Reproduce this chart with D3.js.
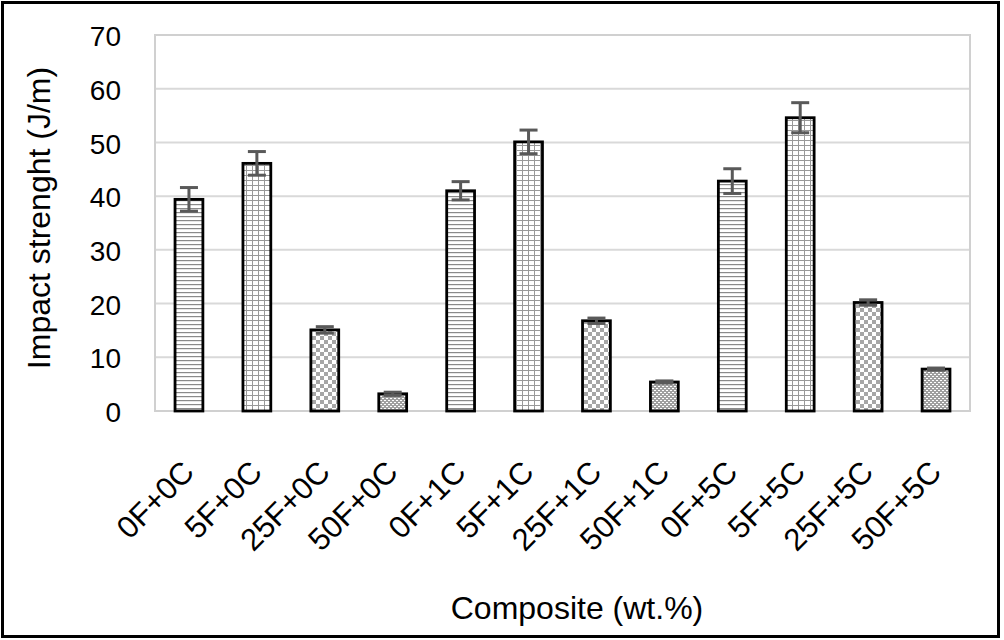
<!DOCTYPE html>
<html>
<head>
<meta charset="utf-8">
<script src="https://cdn.jsdelivr.net/npm/d3@7/dist/d3.min.js"></script>
<style>
  html, body { margin: 0; padding: 0; background: #fff; }
  svg { display: block; }
  text { font-family: "Liberation Sans", Arial, sans-serif; fill: #000; }
</style>
</head>
<body>
<svg id="chart" width="1004" height="640"></svg>
<script>
// ---- data ----
const categories = ["0F+0C","5F+0C","25F+0C","50F+0C","0F+1C","5F+1C","25F+1C","50F+1C","0F+5C","5F+5C","25F+5C","50F+5C"];
const values = [39.4, 46.1, 15.1, 3.2, 41.0, 50.1, 16.8, 5.4, 42.8, 54.6, 20.2, 7.8];
const errors = [2.2, 2.2, 0.6, 0.3, 1.7, 2.2, 0.5, 0.2, 2.3, 2.8, 0.5, 0.2];
const fillTypes = ["hline","grid","checker","dots","hline","grid","checker","dots","hline","grid","checker","dots"];
const yTicks = [0, 10, 20, 30, 40, 50, 60, 70];
const yTitle = "Impact strenght (J/m)";
const xTitle = "Composite (wt.%)";

const svg = d3.select("#chart");
const W = 1004, H = 640;
const plot = { left: 155, right: 970, top: 35, bottom: 411 };

// patterns
const defs = svg.append("defs");
const pH = defs.append("pattern").attr("id", "hline").attr("patternUnits", "userSpaceOnUse")
  .attr("width", 8).attr("height", 4);
pH.append("rect").attr("width", 8).attr("height", 4).attr("fill", "#fff");
pH.append("rect").attr("y", 0).attr("width", 8).attr("height", 1.2).attr("fill", "#8a8a8a");

const pG = defs.append("pattern").attr("id", "grid").attr("patternUnits", "userSpaceOnUse")
  .attr("width", 6).attr("height", 5);
pG.append("rect").attr("width", 6).attr("height", 5).attr("fill", "#fff");
pG.append("rect").attr("width", 6).attr("height", 1).attr("fill", "#999");
pG.append("rect").attr("width", 1).attr("height", 5).attr("fill", "#999");

const pC = defs.append("pattern").attr("id", "checker").attr("patternUnits", "userSpaceOnUse")
  .attr("width", 8).attr("height", 8);
pC.append("rect").attr("width", 8).attr("height", 8).attr("fill", "#fff");
pC.append("rect").attr("width", 4).attr("height", 4).attr("fill", "#a6a6a6");
pC.append("rect").attr("x", 4).attr("y", 4).attr("width", 4).attr("height", 4).attr("fill", "#a6a6a6");

const pD = defs.append("pattern").attr("id", "dots").attr("patternUnits", "userSpaceOnUse")
  .attr("width", 4).attr("height", 4);
pD.append("rect").attr("width", 4).attr("height", 4).attr("fill", "#a0a0a0");
pD.append("rect").attr("x", 0).attr("y", 0).attr("width", 2).attr("height", 1).attr("fill", "#fff");
pD.append("rect").attr("x", 2).attr("y", 2).attr("width", 2).attr("height", 1).attr("fill", "#fff");

// scales
const x = d3.scaleBand().domain(categories).range([plot.left, plot.right]).paddingInner(0.59).paddingOuter(0.295);
const y = d3.scaleLinear().domain([0, 70]).range([plot.bottom, plot.top]);

// background
svg.append("rect").attr("width", W).attr("height", H).attr("fill", "#fff");

// gridlines
svg.append("g").selectAll("line").data(yTicks).join("line")
  .attr("x1", plot.left).attr("x2", plot.right)
  .attr("y1", d => y(d)).attr("y2", d => y(d))
  .attr("stroke", "#d9d9d9").attr("stroke-width", 2);

// plot area border
svg.append("rect")
  .attr("x", plot.left).attr("y", plot.top)
  .attr("width", plot.right - plot.left).attr("height", plot.bottom - plot.top)
  .attr("fill", "none").attr("stroke", "#d0d0d0").attr("stroke-width", 2);

// y axis labels
const yAxis = d3.axisLeft(y).tickValues(yTicks).tickSize(0).tickPadding(34);
const gy = svg.append("g").attr("transform", `translate(${plot.left},0)`).call(yAxis);
gy.select(".domain").remove();
gy.selectAll("text").attr("font-size", 28).attr("font-family", "Liberation Sans, Arial, sans-serif").attr("fill", "#000").attr("dy", "0.38em");

// bars
const data = categories.map((c, i) => ({ c, v: values[i], e: errors[i], f: fillTypes[i] }));
svg.append("g").selectAll("rect").data(data).join("rect")
  .attr("x", d => x(d.c)).attr("width", x.bandwidth())
  .attr("y", d => y(d.v)).attr("height", d => y(0) - y(d.v))
  .attr("fill", d => `url(#${d.f})`)
  .attr("stroke", "#000").attr("stroke-width", 2.8);

// error bars
const eg = svg.append("g").attr("stroke", "#595959").attr("stroke-width", 3);
const cap = 9;
data.forEach(d => {
  const cx = x(d.c) + x.bandwidth() / 2;
  eg.append("line").attr("x1", cx).attr("x2", cx).attr("y1", y(d.v + d.e)).attr("y2", y(d.v - d.e));
  eg.append("line").attr("x1", cx - cap).attr("x2", cx + cap).attr("y1", y(d.v + d.e)).attr("y2", y(d.v + d.e));
  eg.append("line").attr("x1", cx - cap).attr("x2", cx + cap).attr("y1", y(d.v - d.e)).attr("y2", y(d.v - d.e));
});

// x labels
svg.append("g").selectAll("text").data(categories).join("text")
  .attr("transform", d => `translate(${x(d) + x.bandwidth() / 2 + 7},474) rotate(-45)`)
  .attr("text-anchor", "end")
  .attr("font-size", 31)
  .text(d => d);

// axis titles
svg.append("text")
  .attr("transform", `translate(50,218) rotate(-90)`)
  .attr("text-anchor", "middle")
  .attr("font-size", 32)
  .text(yTitle);

svg.append("text")
  .attr("x", 577).attr("y", 619)
  .attr("text-anchor", "middle")
  .attr("font-size", 32)
  .text(xTitle);

// outer frame
svg.append("rect").attr("x", 2.5).attr("y", 2.5).attr("width", 996).attr("height", 634)
  .attr("fill", "none").attr("stroke", "#000").attr("stroke-width", 3);
</script>
</body>
</html>
